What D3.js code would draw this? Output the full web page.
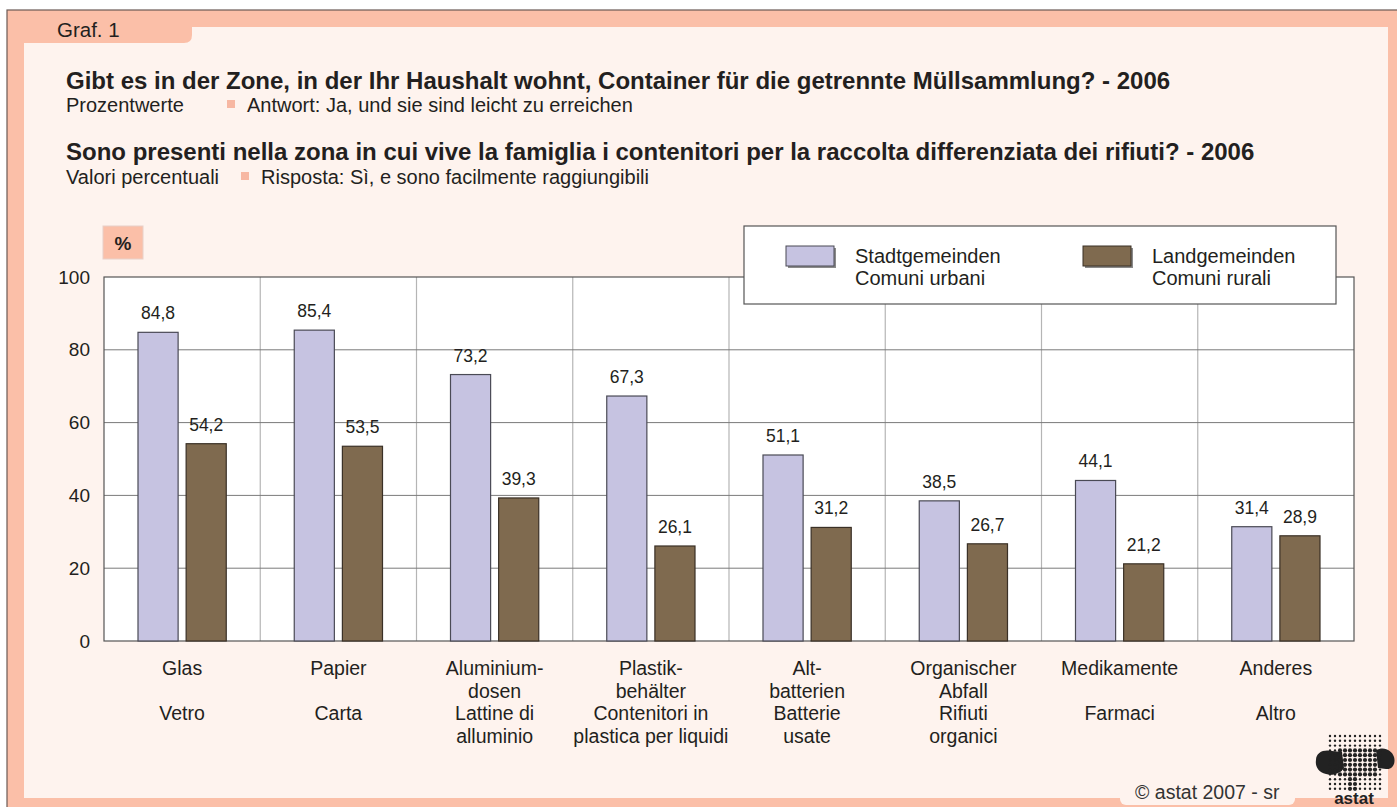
<!DOCTYPE html>
<html>
<head>
<meta charset="utf-8">
<script src="https://cdn.jsdelivr.net/npm/d3@7"></script>
<style>
  html, body { margin: 0; padding: 0; background: #fff; }
  svg { display: block; font-family: "Liberation Sans", Arial, sans-serif; }
</style>
</head>
<body>
<svg id="chart" width="1397" height="807"></svg>
<script>
// カテゴリ(ドイツ語 / イタリア語)
const categoriesDE = [
  ["Glas"], ["Papier"], ["Aluminium-", "dosen"], ["Plastik-", "behälter"],
  ["Alt-", "batterien"], ["Organischer", "Abfall"], ["Medikamente"], ["Anderes"]
];
const categoriesIT = [
  ["Vetro"], ["Carta"], ["Lattine di", "alluminio"], ["Contenitori in", "plastica per liquidi"],
  ["Batterie", "usate"], ["Rifiuti", "organici"], ["Farmaci"], ["Altro"]
];

// 系列
const seriesNames = [["Stadtgemeinden", "Comuni urbani"], ["Landgemeinden", "Comuni rurali"]];
const urbanValues = [84.8, 85.4, 73.2, 67.3, 51.1, 38.5, 44.1, 31.4];
const ruralValues = [54.2, 53.5, 39.3, 26.1, 31.2, 26.7, 21.2, 28.9];

// 目盛
const yTicks = [0, 20, 40, 60, 80, 100];

// 色
const FrameColor = "#FBBFA8";
const PanelColor = "#FEF3EE";
const BarColors = ["#C6C3E1", "#7F6A4F"];
const BarStroke = ["#4a4a55", "#3a3026"];
const TextColor = "#231f20";

const svg = d3.select("#chart");

// 外枠
svg.append("rect").attr("x", 0).attr("y", 0).attr("width", 1397).attr("height", 807).attr("fill", "#fff");
svg.append("rect").attr("x", 7).attr("y", 10).attr("width", 1395).attr("height", 800)
  .attr("fill", FrameColor).attr("stroke", "#6b5a55").attr("stroke-width", 1.2);

// 内側パネル(タブ付き)
const panel = d3.path();
panel.moveTo(24, 43);
panel.lineTo(184, 43);
panel.quadraticCurveTo(192, 43, 192, 35);
panel.lineTo(192, 27);
panel.lineTo(1388, 27);
panel.lineTo(1388, 798);
panel.lineTo(24, 798);
panel.closePath();
svg.append("path").attr("d", panel.toString()).attr("fill", PanelColor);

// コピーライトのタブ
svg.append("rect").attr("x", 1120).attr("y", 780).attr("width", 175).attr("height", 25)
  .attr("rx", 6).attr("fill", PanelColor);

svg.append("text").attr("x", 57).attr("y", 37).attr("font-size", 20.5).attr("fill", TextColor).text("Graf. 1");

// タイトル
const titles = [
  { y: 89, text: "Gibt es in der Zone, in der Ihr Haushalt wohnt, Container für die getrennte Müllsammlung? - 2006" },
  { y: 160, text: "Sono presenti nella zona in cui vive la famiglia i contenitori per la raccolta differenziata dei rifiuti? - 2006" }
];
const subtitles = [
  { y: 112, sq: 227, a: "Prozentwerte", b: "Antwort: Ja, und sie sind leicht zu erreichen" },
  { y: 184, sq: 241, a: "Valori percentuali", b: "Risposta: Sì, e sono facilmente raggiungibili" }
];
titles.forEach((t) => {
  svg.append("text").attr("x", 66).attr("y", t.y).attr("font-size", 24)
    .attr("font-weight", "bold").attr("fill", TextColor).text(t.text);
});
subtitles.forEach((s) => {
  svg.append("text").attr("x", 66).attr("y", s.y).attr("font-size", 20).attr("fill", TextColor).text(s.a);
  svg.append("rect").attr("x", s.sq).attr("y", s.y - 12).attr("width", 8).attr("height", 8).attr("fill", "#F7B7A2");
  svg.append("text").attr("x", s.sq + 20).attr("y", s.y).attr("font-size", 20).attr("fill", TextColor).text(s.b);
});

// グラフ領域
const plot = { left: 104, right: 1354, top: 277, bottom: 641 };

const x0 = d3.scaleBand().domain(d3.range(categoriesDE.length)).range([plot.left, plot.right]);
const x1 = d3.scaleBand().domain([0, 1]).range([34, x0.bandwidth() - 34]).paddingInner(0.1667);
const y = d3.scaleLinear().domain([0, 100]).range([plot.bottom, plot.top]);

svg.append("rect").attr("x", plot.left).attr("y", plot.top)
  .attr("width", plot.right - plot.left).attr("height", plot.bottom - plot.top).attr("fill", "#fff");

// 縦のグリッド
svg.append("g").selectAll("line")
  .data(d3.range(1, categoriesDE.length))
  .enter().append("line")
  .attr("x1", (d) => x0(d)).attr("x2", (d) => x0(d))
  .attr("y1", plot.top).attr("y2", plot.bottom)
  .attr("stroke", "#b5b5b5").attr("stroke-width", 1.2);

// 横のグリッド
svg.append("g").selectAll("line")
  .data(yTicks.filter((d) => d > 0 && d < 100))
  .enter().append("line")
  .attr("x1", plot.left).attr("x2", plot.right)
  .attr("y1", (d) => y(d)).attr("y2", (d) => y(d))
  .attr("stroke", "#7a7a7a").attr("stroke-width", 1);

// 枠
svg.append("rect").attr("x", plot.left).attr("y", plot.top)
  .attr("width", plot.right - plot.left).attr("height", plot.bottom - plot.top)
  .attr("fill", "none").attr("stroke", "#555").attr("stroke-width", 1.2);

// Y軸
const yAxis = svg.append("g")
  .attr("transform", `translate(${plot.left},0)`)
  .call(d3.axisLeft(y).tickValues(yTicks).tickSize(0).tickPadding(14));
yAxis.select(".domain").remove();
yAxis.selectAll("text").attr("font-size", 19).attr("fill", TextColor)
  .attr("font-family", "Liberation Sans, Arial, sans-serif");

// 棒
const allValues = [urbanValues, ruralValues];
allValues.forEach((values, s) => {
  const g = svg.append("g");
  g.selectAll("rect")
    .data(values)
    .enter().append("rect")
    .attr("x", (d, i) => x0(i) + x1(s))
    .attr("y", (d) => y(d))
    .attr("width", x1.bandwidth())
    .attr("height", (d) => y(0) - y(d))
    .attr("fill", BarColors[s])
    .attr("stroke", BarStroke[s])
    .attr("stroke-width", 1.2);

  g.selectAll("text")
    .data(values)
    .enter().append("text")
    .attr("x", (d, i) => x0(i) + x1(s) + x1.bandwidth() / 2)
    .attr("y", (d) => y(d) - 13)
    .attr("text-anchor", "middle")
    .attr("font-size", 17.5)
    .attr("fill", TextColor)
    .text((d) => d.toFixed(1).replace(".", ","));
});

// X軸ラベル
const lineHeight = 22.5;
const labelTop = 675;
categoriesDE.forEach((de, i) => {
  const cx = x0(i) + x0.bandwidth() / 2;
  const lines = de.map((t, k) => ({ t: t, k: k }))
    .concat(categoriesIT[i].map((t, k) => ({ t: t, k: k + 2 })));
  svg.append("g").selectAll("text")
    .data(lines)
    .enter().append("text")
    .attr("x", cx)
    .attr("y", (d) => labelTop + d.k * lineHeight)
    .attr("text-anchor", "middle")
    .attr("font-size", 19.5)
    .attr("fill", TextColor)
    .text((d) => d.t);
});

// %ラベル
svg.append("rect").attr("x", 103).attr("y", 226).attr("width", 40).attr("height", 33)
  .attr("fill", FrameColor).attr("stroke", "#e8d0c8").attr("stroke-width", 1);
svg.append("text").attr("x", 123).attr("y", 250).attr("text-anchor", "middle")
  .attr("font-size", 19).attr("font-weight", "bold").attr("fill", TextColor).text("%");

// 凡例
const legend = svg.append("g");
legend.append("rect").attr("x", 744).attr("y", 226).attr("width", 592).attr("height", 78)
  .attr("fill", "#fff").attr("stroke", "#555").attr("stroke-width", 1.2);
const legendX = [786, 1083];
seriesNames.forEach((names, s) => {
  legend.append("rect").attr("x", legendX[s] + 2).attr("y", 248).attr("width", 48).attr("height", 20)
    .attr("fill", "#8a8a8a");
  legend.append("rect").attr("x", legendX[s]).attr("y", 246).attr("width", 48).attr("height", 20)
    .attr("fill", BarColors[s]).attr("stroke", BarStroke[s]).attr("stroke-width", 1);
  names.forEach((n, k) => {
    legend.append("text").attr("x", legendX[s] + 69).attr("y", 263 + k * 22)
      .attr("font-size", 20).attr("fill", TextColor).text(n);
  });
});

// コピーライト
svg.append("text").attr("x", 1135).attr("y", 799).attr("font-size", 19.5).attr("fill", "#333")
  .text("©  astat 2007 - sr");

// ロゴ(簡略)
const logo = svg.append("g");
const dots = [];
for (let r = 0; r < 12; r++) {
  for (let c = 0; c < 11; c++) {
    dots.push([1330 + c * 5, 736 + r * 4.8]);
  }
}
logo.append("path")
  .attr("d", "M1316,760 C1316,752 1324,749 1332,751 L1342,752 L1344,768 C1340,774 1332,776 1326,774 C1318,772 1315,766 1316,760 Z")
  .attr("fill", "#222");
logo.append("path")
  .attr("d", "M1376,750 C1384,746 1392,750 1394,757 C1396,764 1392,770 1386,769 L1378,768 Z")
  .attr("fill", "#222");
logo.selectAll("circle")
  .data(dots)
  .enter().append("circle")
  .attr("cx", (d) => d[0]).attr("cy", (d) => d[1])
  .attr("r", (d) => (d[1] > 748 && d[1] < 778 && d[0] > 1336 && d[0] < 1380) || (d[0] > 1345 && d[0] < 1360 && d[1] < 792 && d[1] > 748) ? 2.1 : 1.2)
  .attr("fill", "#222");
logo.append("text").attr("x", 1354).attr("y", 804).attr("text-anchor", "middle")
  .attr("font-size", 17).attr("font-weight", "bold").attr("fill", "#222").text("astat");
</script>
</body>
</html>
